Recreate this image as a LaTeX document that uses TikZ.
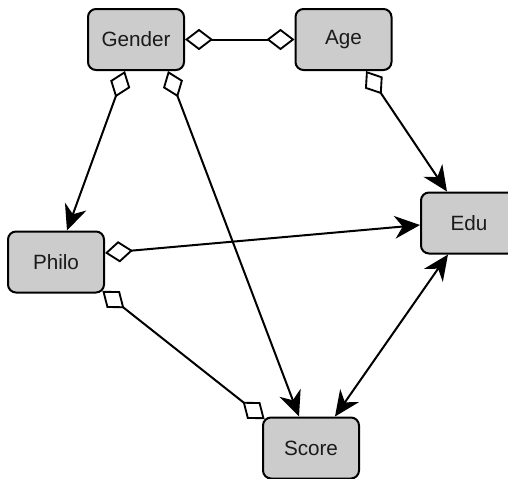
\documentclass[tikz,border=0pt]{standalone}
\usepackage{fontspec}
\setmainfont{Liberation Sans}
\usetikzlibrary{arrows.meta}
\definecolor{boxgray}{HTML}{CCCCCC}
\definecolor{txt}{HTML}{1A1A1A}
\tikzset{
  dia/.tip={Diamond[open, fill=white, length=21pt, width=16pt, line width=1.4pt]},
  stl/.tip={Stealth[length=19pt, width=17pt, inset=6pt]}
}
\begin{document}
\begin{tikzpicture}[x=0.75pt,y=-0.75pt,
  box/.style={draw=black, line width=1.5pt, fill=boxgray, rounded corners=6pt,
    minimum width=72pt, minimum height=45.75pt, inner sep=0pt, text=txt,
    font=\fontsize{15.5}{18}\selectfont},
  conn/.style={line width=1.5pt}]
\useasboundingbox (0,0) rectangle (508,479);
\node[box] (gender) at (136,39.5) {Gender};
\node[box] (age) at (343.5,39.5) {Age};
\node[box] (edu) at (469,223) {Edu};
\node[box] (philo) at (56,262) {Philo};
\node[box] (score) at (311,448) {Score};
% connectors
\draw[conn, dia-dia] (gender.east) -- (age.west);
\draw[conn, dia-stl] ([xshift=-8.25pt]gender.south) -- ([xshift=8.25pt]philo.north);
\draw[conn, dia-stl] ([xshift=24pt]gender.south) -- ([xshift=-9pt]score.north);
\draw[conn, dia-stl] ([xshift=16.9pt]age.south) -- ([xshift=-16.5pt]edu.north);
\draw[conn, dia-stl] ([yshift=6.75pt]philo.east) -- ([yshift=-1.5pt]edu.west);
\draw[conn, dia-dia] ([xshift=-2pt,yshift=2pt]philo.south east) -- ([xshift=2pt,yshift=-2pt]score.north west);
\draw[conn, stl-stl] ([xshift=18pt]score.north) -- ([xshift=-15.75pt]edu.south);
\end{tikzpicture}
\end{document}
